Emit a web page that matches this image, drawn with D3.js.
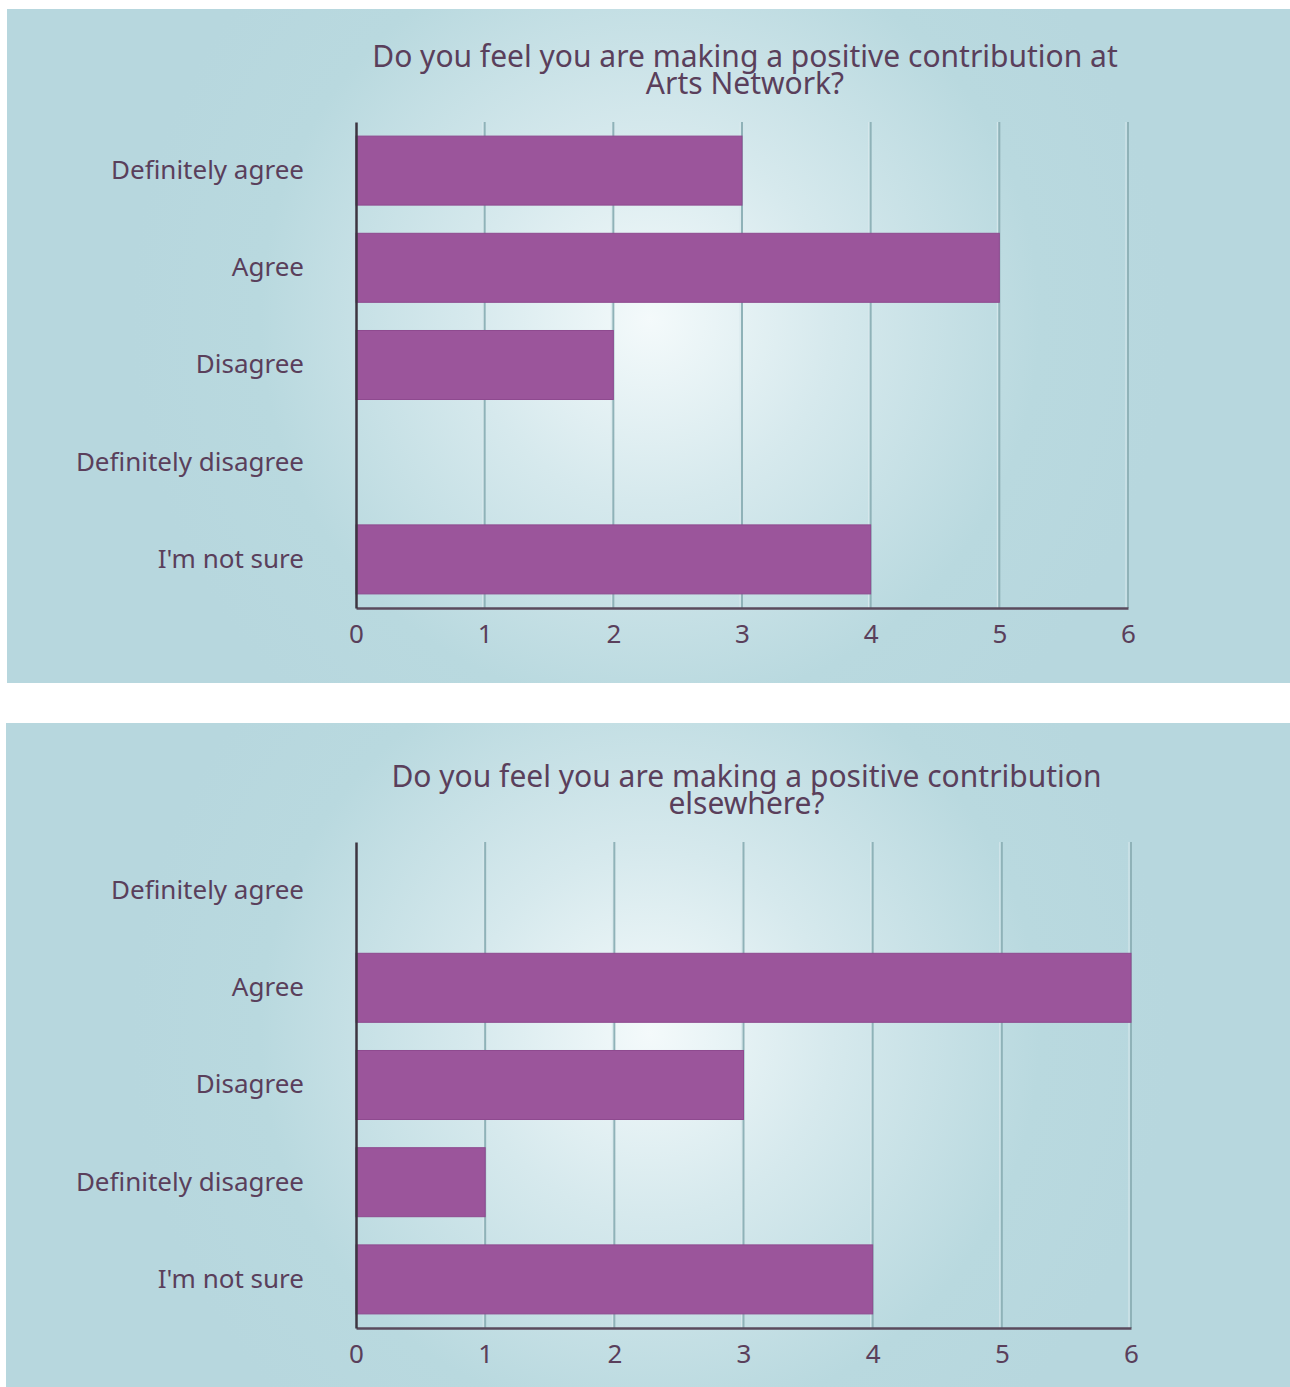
<!DOCTYPE html>
<html>
<head>
<meta charset="utf-8">
<script src="https://cdn.jsdelivr.net/npm/d3@7"></script>
<style>
  body { margin: 0; background: #fff; }
  text { font-family: "Noto Sans", sans-serif; fill: #5a3f5b; }
</style>
</head>
<body>
<div id="chart"></div>
<script>
// answer categories, same for both charts
var categories = ["Definitely agree", "Agree", "Disagree", "Definitely disagree", "I'm not sure"];
var artsValues = [3, 5, 2, 0, 4];
var elsewhereValues = [0, 6, 3, 1, 4];
var tickValues = [0, 1, 2, 3, 4, 5, 6];
var titles = [
  ["Do you feel you are making a positive contribution at", "Arts Network?"],
  ["Do you feel you are making a positive contribution", "elsewhere?"]
];

var width = 1290, height = 1387;
var svg = d3.select('#chart').append('svg').attr('width', width).attr('height', height);
var defs = svg.append('defs');

var panels = [
  { x: 7, y: 9, w: 1283, h: 674, dy: 0, values: artsValues, title: titles[0], x0: 356, x1: 1128 },
  { x: 6, y: 723, w: 1284, h: 664, dy: 6, values: elsewhereValues, title: titles[1], x0: 356, x1: 1131 }
];

panels.forEach(function (p, k) {
  var g = svg.append('g').attr('transform', 'translate(0,' + p.y + ')');
  var grad = defs.append('radialGradient').attr('id', 'bg' + k)
    .attr('gradientUnits', 'userSpaceOnUse')
    .attr('cx', 650).attr('cy', 310).attr('r', 520);
  grad.append('stop').attr('offset', '0%').attr('stop-color', '#f4fafb');
  grad.append('stop').attr('offset', '35%').attr('stop-color', '#d6e9ed');
  grad.append('stop').attr('offset', '75%').attr('stop-color', '#b9d9df');
  grad.append('stop').attr('offset', '100%').attr('stop-color', '#b7d7de');
  g.append('rect').attr('x', p.x).attr('y', 0).attr('width', p.w).attr('height', p.h)
    .style('fill', 'url(#bg' + k + ')');

  var top = 113 + p.dy, bottom = 599 + p.dy;
  var x = d3.scaleLinear().domain([0, 6]).range([p.x0, p.x1]);
  var y = d3.scaleBand().domain(categories).range([top, bottom]).paddingInner(0.29).paddingOuter(0.145);

  // gridlines
  g.selectAll('.grid').data(tickValues.slice(1)).enter().append('line')
    .attr('x1', function (d) { return x(d); }).attr('x2', function (d) { return x(d); })
    .attr('y1', top).attr('y2', bottom)
    .style('stroke', '#8fb2b8').style('stroke-width', 2);
  g.selectAll('.grid2').data(tickValues.slice(1)).enter().append('line')
    .attr('x1', function (d) { return x(d) - 2; }).attr('x2', function (d) { return x(d) - 2; })
    .attr('y1', top).attr('y2', bottom)
    .style('stroke', '#d8e8ec').style('stroke-width', 1);

  // bars
  g.selectAll('.bar').data(p.values).enter().append('rect')
    .attr('x', x(0))
    .attr('y', function (d, i) { return y(categories[i]); })
    .attr('width', function (d) { return x(d) - x(0); })
    .attr('height', y.bandwidth())
    .style('fill', '#9b559b')
    .style('stroke', '#8e4a8f').style('stroke-width', function (d) { return d > 0 ? 1 : 0; });

  // axes
  var xAxis = g.append('g').attr('transform', 'translate(0,' + bottom + ')')
    .call(d3.axisBottom(x).tickValues(tickValues).tickFormat(d3.format('d')).tickSize(0).tickPadding(17));
  xAxis.select('.domain').style('stroke', '#5a4a5c').style('stroke-width', 2.5);
  xAxis.selectAll('text').style('font-size', '26px').style('fill', '#5a3f5b');

  var yAxis = g.append('g').attr('transform', 'translate(' + x(0) + ',0)')
    .call(d3.axisLeft(y).tickSize(0).tickPadding(52));
  yAxis.select('.domain').style('stroke', '#3d3540').style('stroke-width', 2.5);
  yAxis.selectAll('text').style('font-size', '26px').style('fill', '#5a3f5b');

  // title
  var cx = (p.x0 + p.x1) / 2;
  g.selectAll('.title').data(p.title).enter().append('text')
    .attr('x', cx + 3).attr('y', function (d, i) { return 58 + p.dy + i * 27; })
    .attr('text-anchor', 'middle')
    .style('font-size', '30px')
    .text(function (d) { return d; });
});
</script>
</body>
</html>
